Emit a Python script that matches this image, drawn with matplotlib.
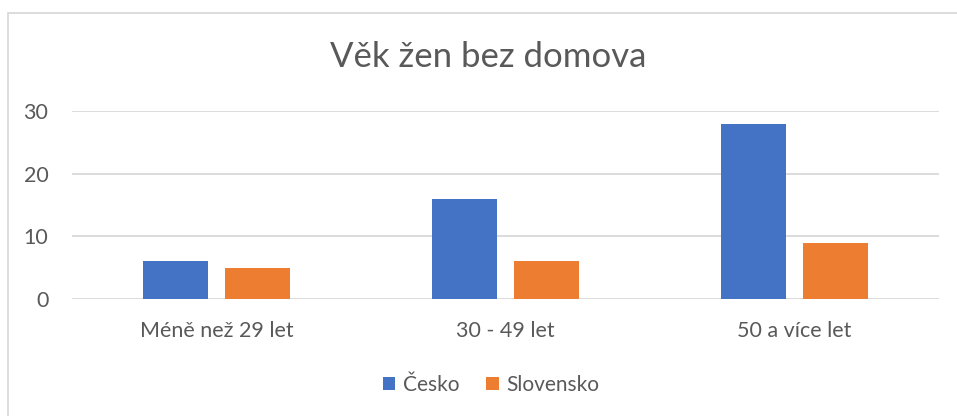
import numpy as np
import matplotlib.pyplot as plt
from matplotlib.patches import Rectangle

categories = ["Méně než 29 let", "30 - 49 let", "50 a více let"]
cesko = [6, 16, 28]
slovensko = [5, 6, 9]

plt.rcParams['font.family'] = ['Lato', 'DejaVu Sans']
text_color = "#595959"

fig = plt.figure(figsize=(9.57, 4.16), dpi=100)
ax = fig.add_axes([72 / 957, 1 - 299 / 416, (939 - 72) / 957, (299 - 111) / 416])

x = np.arange(len(categories))
width = 0.224
ax.bar(x - 0.143, cesko, width, color="#4472C4", label="Česko", zorder=3)
ax.bar(x + 0.143, slovensko, width, color="#ED7D31", label="Slovensko", zorder=3)

ax.set_xlim(-0.5, 2.5)
ax.set_ylim(0, 30)
ax.set_yticks([0, 10, 20, 30])
ax.set_xticks(x)
ax.set_xticklabels(categories)
ax.grid(axis="y", color="#D9D9D9", linewidth=1.3, zorder=0)
for s in ax.spines.values():
    s.set_visible(False)
ax.tick_params(length=0, labelsize=15.5, colors=text_color)
ax.tick_params(axis="x", pad=16)
ax.tick_params(axis="y", pad=17)

fig.text(0.51, 0.862, "Věk žen bez domova", ha="center", va="center",
         fontsize=25, color=text_color)

fig.legend(loc="center", bbox_to_anchor=(0.513, 0.075), ncol=2, frameon=False,
           fontsize=15, labelcolor=text_color, handlelength=0.6, handleheight=0.6,
           handletextpad=0.35, columnspacing=1.3)

fig.patches.append(Rectangle((8 / 957, -0.1), 1.2, 1 - 13 / 416 + 0.1,
                             transform=fig.transFigure, fill=False,
                             edgecolor="#D9D9D9", linewidth=1.3))

fig.savefig("out.png", dpi=100)
